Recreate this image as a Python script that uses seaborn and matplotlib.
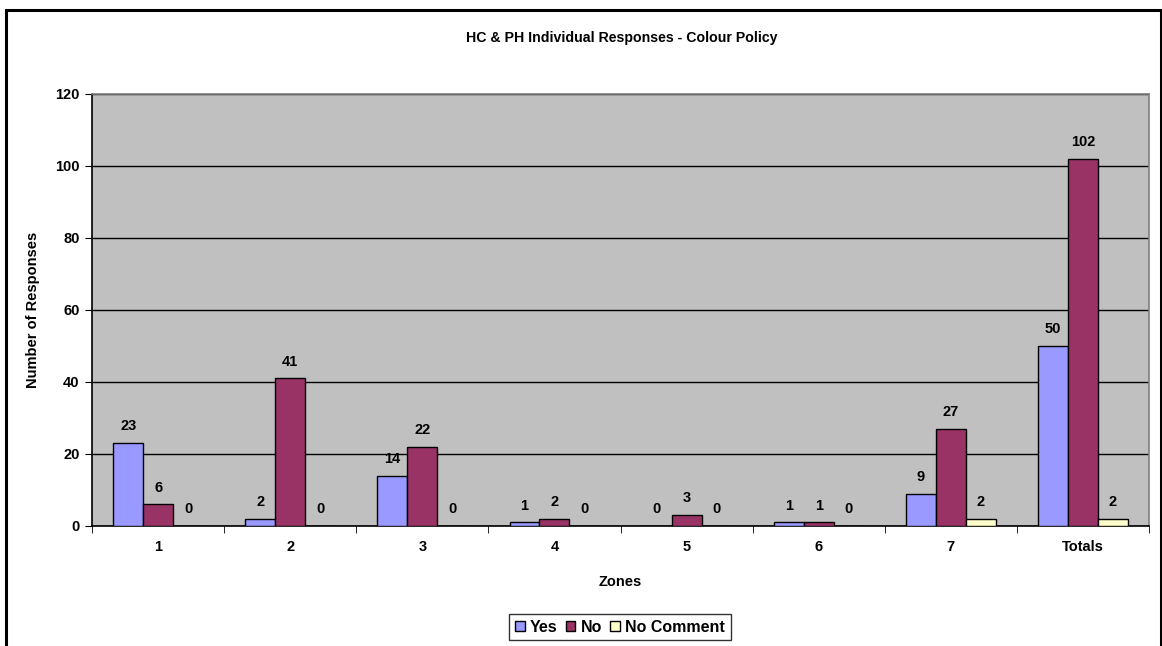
import pandas as pd
import matplotlib
matplotlib.use("Agg")
import matplotlib.pyplot as plt
from matplotlib.patches import Rectangle
import seaborn as sns

# data
zones = ["1", "2", "3", "4", "5", "6", "7", "Totals"]
yes = [23, 2, 14, 1, 0, 1, 9, 50]
no = [6, 41, 22, 2, 3, 1, 27, 102]
no_comment = [0, 0, 0, 0, 0, 0, 2, 2]
series = ["Yes", "No", "No Comment"]
colours = ["#9999FF", "#993366", "#FFFFCC"]

df = pd.DataFrame({"Zone": zones * 3,
                   "Response": ["Yes"] * 8 + ["No"] * 8 + ["No Comment"] * 8,
                   "Count": yes + no + no_comment})

plt.rcParams["font.family"] = ["Liberation Sans", "DejaVu Sans"]
plt.rcParams["font.weight"] = "bold"

fig = plt.figure(figsize=(11.62, 6.46), dpi=100)
ax = fig.add_axes([0.0792, 0.1858, 0.9096, 0.6687])
ax.set_facecolor("#C0C0C0")

sns.barplot(data=df, x="Zone", y="Count", hue="Response", hue_order=series,
            order=zones, palette=colours, saturation=1, width=0.68, gap=0,
            edgecolor="black", linewidth=1, ax=ax, zorder=3)

# value labels
for cont in ax.containers:
    ax.bar_label(cont, padding=7, fontsize=10.5, fontweight="bold")

ax.set_ylim(0, 120)
ax.set_yticks(range(0, 121, 20))
ax.set_xlim(-0.5, len(zones) - 0.5)
ax.yaxis.grid(True, color="black", linewidth=1, zorder=1)
ax.set_axisbelow(True)

# category ticks between groups like Excel
ax.set_xticks([i + 0.5 for i in range(-1, len(zones))], minor=True)
ax.tick_params(axis="x", which="major", length=0, pad=10, labelsize=10.5)
ax.tick_params(axis="x", which="minor", length=5, color="black")
ax.tick_params(axis="y", length=5, labelsize=10.5, pad=4)
for lab in ax.get_xticklabels() + ax.get_yticklabels():
    lab.set_fontweight("bold")

ax.spines["left"].set_color("black")
ax.spines["bottom"].set_color("black")
ax.spines["top"].set_color("#808080")
ax.spines["right"].set_color("#808080")
for s in ax.spines.values():
    s.set_linewidth(1.2)

ax.set_xlabel("Zones", fontsize=10.5, fontweight="bold", labelpad=15)
ax.set_ylabel("Number of Responses", fontsize=10.5, fontweight="bold", labelpad=11)
fig.text(0.535, 0.941, "HC & PH Individual Responses - Colour Policy",
         ha="center", va="center", fontsize=10.2, fontweight="bold")

ax.legend_.remove()
handles = [Rectangle((0, 0), 1, 1, facecolor=c, edgecolor="black", linewidth=1) for c in colours]
leg = fig.legend(handles, series, loc="center", bbox_to_anchor=(0.5336, 0.029), ncol=3,
                 frameon=True, fancybox=False, edgecolor="black", fontsize=11.5,
                 handlelength=0.6, handleheight=0.6, handletextpad=0.35, columnspacing=0.5,
                 borderpad=0.35)
leg.get_frame().set_linewidth(1)
for t in leg.get_texts():
    t.set_fontweight("bold")

# outer chart frame
fig.patches.append(Rectangle((6 / 1162, -0.05), 1155 / 1162, 1.05 - 10 / 646,
                             transform=fig.transFigure, fill=False,
                             edgecolor="black", linewidth=2.2))

fig.savefig("out.png", dpi=100)
